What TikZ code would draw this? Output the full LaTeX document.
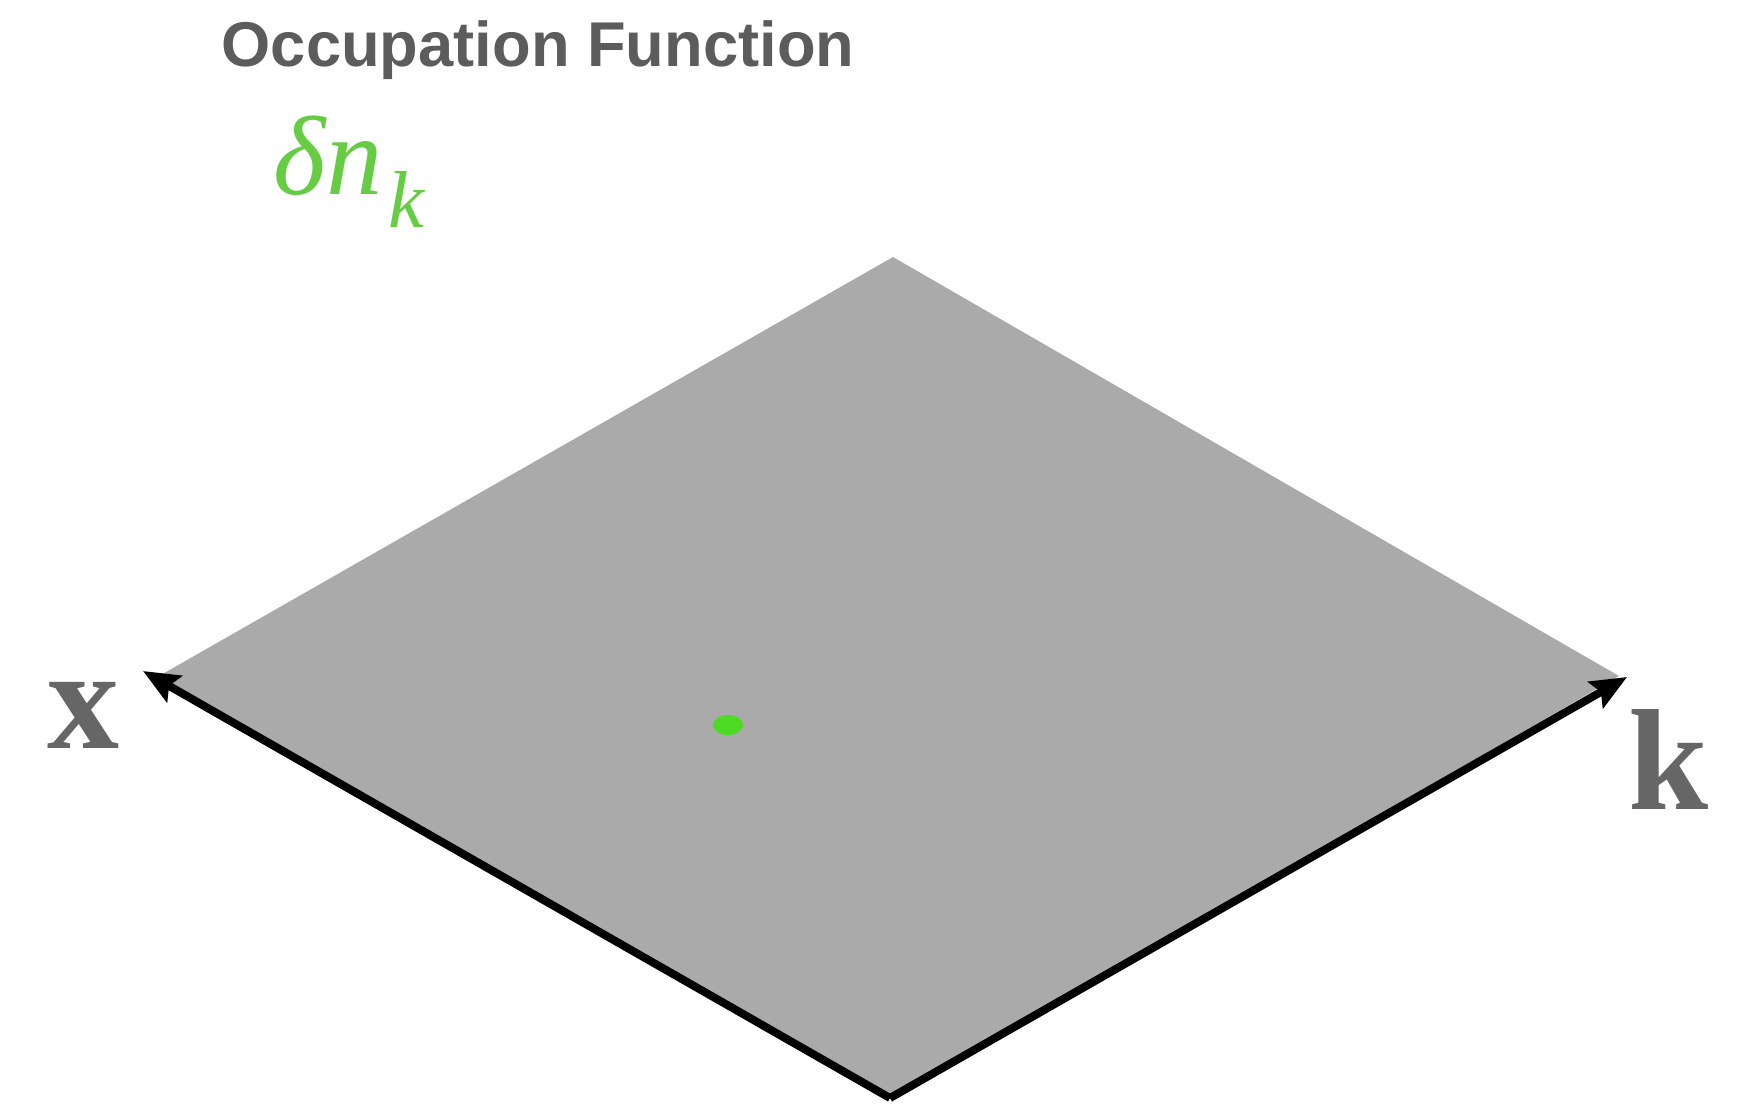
\documentclass[tikz,border=0pt]{standalone}
\usepackage{fontspec}
\usepackage{amsmath}
\usepackage{tikz}
\usetikzlibrary{arrows.meta}
\newfontfamily\headfont{Liberation Sans}
\newfontfamily\axisfont{Liberation Serif}
\definecolor{planegray}{HTML}{AAAAAA}
\definecolor{labelgray}{HTML}{5C5C5C}
\definecolor{axisgray}{HTML}{666666}
\definecolor{occgreen}{HTML}{66CC44}
\definecolor{dotgreen}{HTML}{4CDB22}

\begin{document}
\begin{tikzpicture}[x=0.1mm, y=-0.1mm,
  axis/.style={line width=0.8mm, black, -{Stealth[length=3.6mm, width=3mm, inset=0.6mm]}},
  axislabel/.style={axisgray, anchor=base west, inner sep=0pt, font=\axisfont\bfseries\fontsize{41}{41}\selectfont}]
\useasboundingbox (0,0) rectangle (1737,1112);

\coordinate (top) at (893,257);
\coordinate (rgt) at (1619,676);
\coordinate (bot) at (890,1098);
\coordinate (lft) at (159,676);
\coordinate (xtip) at (143,671); % x axis end
\coordinate (ktip) at (1627,677); % k axis end

\fill[planegray] (top) -- (rgt) -- (bot) -- (lft) -- cycle; % phase space plane
\draw[axis] (bot) -- (xtip);
\draw[axis] (bot) -- (ktip);
\fill[dotgreen] (728,725) ellipse (15 and 10); % single occupied point

\node[labelgray, anchor=base west, inner sep=0pt, font=\headfont\bfseries\fontsize{18}{18}\selectfont] (title) at (221,66) {Occupation Function};
\node[occgreen, anchor=base west, inner sep=0pt, font=\axisfont\itshape\fontsize{32}{32}\selectfont] (dnk) at (273,194) {δn\kern0.6mm\raisebox{-3.3mm}{\fontsize{23}{23}\selectfont k}};
\node[axislabel] (xlab) at (47,748) {x};
\node[axislabel] (klab) at (1628,809) {k};
\end{tikzpicture}
\end{document}
